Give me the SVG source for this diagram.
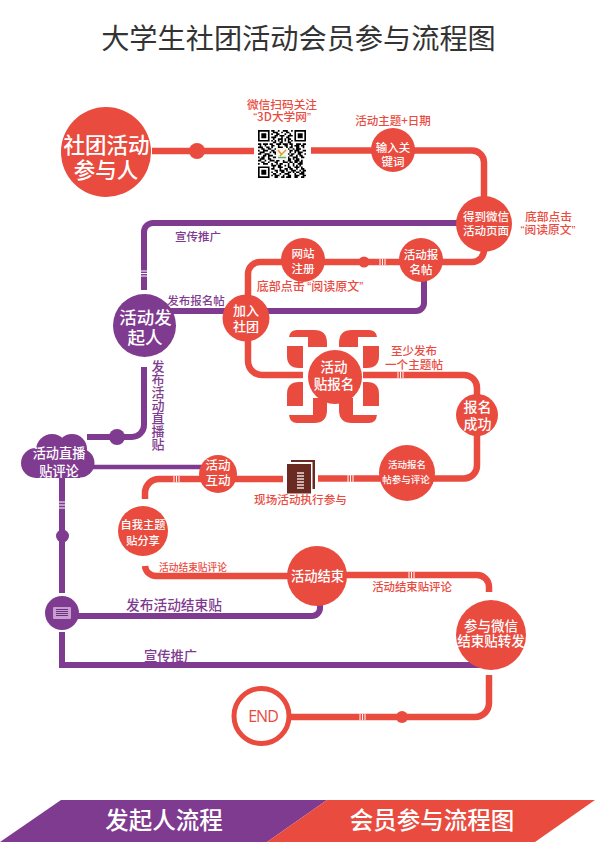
<svg xmlns="http://www.w3.org/2000/svg" width="595" height="842" viewBox="0 0 595 842">
<style>
text{font-family:"Noto Sans CJK SC","Noto Sans",sans-serif;text-anchor:middle}
.r{fill:#e94b3f}.p{fill:#7f3b8f}
.w{fill:#fff;font-weight:500}
.lr{fill:none;stroke:#e94b3f;stroke-width:6.5}
.lp{fill:none;stroke:#7f3b8f;stroke-width:6}
.t{fill:none;stroke:#fff;stroke-width:1}
.q{font-family:"Liberation Sans",sans-serif}
#labels text{font-weight:500}
</style>
<defs>
<path id="tlTop" d="M327,352V343Q327,330 314,330H297Q290,330 289,337H308V352ZM287,346H303V368H299Q287,368 287,356Z"/>
<path id="tlBot" d="M287,394Q287,382 299,382H303V406H287ZM289,415H313V398H327V410Q327,423 314,423H297Q290,423 289,415Z"/>
</defs>
<rect width="595" height="842" fill="#fff"/>
<text id="title" x="298.500" y="49" font-size="28.200" fill="#333">大学生社团活动会员参与流程图</text>

<g id="connectors">
<path class="lp" d="M484,223H153A9,9 0 0 0 144,232V290"/>
<path class="lr" d="M152,151H254"/>
<path class="lr" d="M311,150.500H472A12,12 0 0 1 484,162.500V200"/>
<path class="lp" d="M424,270V303A8,8 0 0 1 416,311H170"/>
<path class="lr" d="M484,245V250A12,12 0 0 1 472,262H260A12,12 0 0 0 248,274V361A14,14 0 0 0 262,375H310"/>
<path class="lr" d="M360,375H464A13,13 0 0 1 477,388V465A13,13 0 0 1 464,478.500H318"/>
<path class="lr" d="M283,479H159A14,14 0 0 0 145,493V499"/>
<path class="lr" d="M145,566A11,11 0 0 0 156,576H300"/>
<path class="lr" d="M340,575H477A12,12 0 0 1 489,587V592"/>
<path class="lr" d="M489,675V703A14,14 0 0 1 475,717H285"/>
<path class="lp" d="M144,367V425A12,12 0 0 1 132,437H87"/>
<path class="lp" d="M85,467H205" style="stroke-width:4.500"/>
<path class="lp" d="M62,478V593"/>
<path class="lp" d="M320,600V608A8,8 0 0 1 312,616H75"/>
<path class="lp" d="M62,632V665H485"/>
<circle class="r" cx="197" cy="151" r="8"/>
<circle class="r" cx="364" cy="262" r="5.500"/>
<circle class="r" cx="402" cy="717" r="6"/>
<circle class="p" cx="117" cy="437" r="8"/>
<circle class="p" cx="62.500" cy="536" r="6.500"/>
<path class="t" d="M141,271h6M141,273.500h6M141,276h6M380,259v6M382.500,259v6M385,259v6M398,372v6M400.500,372v6M403,372v6M353,475v7M350.500,475v7M348,475v7M174,476v6M176.500,476v6M179,476v6M59,502h6M59,505h6M59,508h6M409,572v6M411.500,572v6M414,572v6M360,714v6M362.500,714v6M365,714v6"/>
</g>

<g id="petals" class="r">
<use href="#tlTop"/><use href="#tlBot"/>
<use href="#tlTop" transform="translate(666,0) scale(-1,1)"/>
<use href="#tlBot" transform="translate(666,0) scale(-1,1)"/>
</g>

<g id="n-start"><circle class="r" cx="106" cy="152" r="45"/>
<text class="w" x="106.500" y="153" font-size="21.500">社团活动</text><text class="w" x="106" y="178" font-size="21.500">参与人</text></g>

<g id="n-qr">
<rect x="258" y="130" width="48" height="48" fill="#fff"/>
<g transform="translate(258,130) scale(1.655)">
<path d="M0,0h7v7h-7zM1,1v5h5v-5zM2,2h3v3h-3zM22,0h7v7h-7zM23,1v5h5v-5zM24,2h3v3h-3zM0,22h7v7h-7zM1,23v5h5v-5zM2,24h3v3h-3z" fill="#000" fill-rule="evenodd"/>
<path stroke="#000" stroke-width="1" fill="none" d="M8,.5h2m2,0h1m2,0h3m2,0h1M9,1.500h3m2,0h1m2,0h2M8,2.500h1m2,0h2m3,0h1m2,0h1M10,3.500h2m1,0h3m2,0h3M8,4.500h3m3,0h1m2,0h2M9,5.500h1m2,0h3m1,0h1m1,0h2M8,6.500h1m1,0h1m1,0h1m1,0h1m1,0h1m1,0h1m1,0h1M9,7.500h2m2,0h2m3,0h2M0,8.500h2m1,0h3m1,0h2m2,0h3m1,0h3m1,0h2m2,0h3m1,0h2M1,9.500h1m2,0h1m3,0h2m2,0h1m3,0h2m2,0h1m1,0h3m1,0h2M0,10.500h3m2,0h2m1,0h1m3,0h3m2,0h1m1,0h2m2,0h2m2,0h1M2,11.500h2m2,0h2m2,0h1m7,0h1m2,0h1m1,0h3M0,12.500h1m2,0h3m2,0h2m1,0h1m7,0h2m1,0h3m2,0h2M1,13.500h3m3,0h1m1,0h2m8,0h1m2,0h1m1,0h3M0,14.500h2m2,0h3m3,0h1m7,0h1m1,0h2m2,0h2m2,0h1M3,15.500h2m1,0h3m2,0h1m7,0h2m2,0h1m1,0h2M0,16.500h1m1,0h2m2,0h1m2,0h2m2,0h3m1,0h2m2,0h3m2,0h2M1,17.500h3m2,0h2m3,0h1m2,0h1m1,0h1m1,0h2m1,0h1m1,0h2M0,18.500h2m2,0h1m2,0h3m1,0h2m2,0h1m2,0h2m2,0h3m1,0h1M2,19.500h2m2,0h1m3,0h2m3,0h3m1,0h2m1,0h2m1,0h2M0,20.500h1m2,0h3m2,0h1m2,0h1m1,0h2m3,0h1m2,0h1m2,0h3M8,21.500h3m1,0h2m2,0h1m1,0h1m2,0h1m1,0h1m1,0h1M9,22.500h1m2,0h3m3,0h2m2,0h3m1,0h1M8,23.500h2m3,0h1m2,0h2m1,0h2m2,0h1m2,0h2M10,24.500h2m1,0h3m1,0h1m2,0h3m2,0h1m1,0h2M8,25.500h1m2,0h1m2,0h2m2,0h2m1,0h1m1,0h2m1,0h2M9,26.500h2m2,0h1m2,0h3m3,0h1m2,0h3M8,27.500h1m1,0h3m2,0h1m2,0h2m2,0h3m2,0h2M10,28.500h2m2,0h2m1,0h3m2,0h2m2,0h2"/>
</g>
<rect x="276" y="148" width="12" height="12" fill="#f4f7ef"/>
<path d="M278,150L282,155M286,150L280,156" stroke="#e8962e" stroke-width="1.400" fill="none"/>
<path d="M278,157.500H286" stroke="#58b368" stroke-width="1.400"/>
</g>

<g id="n-keyword"><circle class="r" cx="393" cy="150" r="22"/>
<text class="w" x="393" y="152" font-size="11.500">输入关</text><text class="w" x="393" y="166" font-size="11.500">键词</text></g>

<g id="n-wechat"><circle class="r" cx="484" cy="224" r="28"/>
<text class="w" x="486" y="221" font-size="11.500">得到微信</text><text class="w" x="486" y="235" font-size="11.500">活动页面</text></g>

<g id="n-post"><circle class="r" cx="421" cy="260" r="22"/>
<text class="w" x="421" y="259" font-size="11.500">活动报</text><text class="w" x="421" y="274" font-size="11.500">名帖</text></g>

<g id="n-register"><circle class="r" cx="303" cy="260" r="22"/>
<text class="w" x="303" y="258" font-size="11.500">网站</text><text class="w" x="303" y="273" font-size="11.500">注册</text></g>

<g id="n-join"><circle class="r" cx="246" cy="318" r="23.500"/>
<text class="w" x="246" y="315" font-size="13">加入</text><text class="w" x="246" y="331" font-size="13">社团</text></g>

<g id="n-initiator"><circle class="p" cx="144.500" cy="325.500" r="31.500"/>
<text class="w" x="145.500" y="324" font-size="17.500">活动发</text><text class="w" x="145" y="344" font-size="17.500">起人</text></g>

<g id="n-signup"><rect x="303" y="347" width="60" height="51" fill="#fff"/><circle class="r" cx="335" cy="377" r="27"/>
<text class="w" x="334" y="372" font-size="13.500">活动</text><text class="w" x="334" y="389" font-size="13.500">贴报名</text></g>

<g id="n-success"><circle class="r" cx="477" cy="415" r="21"/>
<text class="w" x="477.500" y="412" font-size="14">报名</text><text class="w" x="477.500" y="429" font-size="14">成功</text></g>

<g id="n-comment"><circle class="r" cx="407" cy="473" r="28"/>
<text class="w" x="407" y="468" font-size="9.500">活动报名</text><text class="w" x="406" y="483" font-size="9.500">帖参与评论</text></g>

<g id="n-book">
<rect x="291" y="460" width="24" height="29" fill="#6a2a22"/>
<rect x="288.500" y="462" width="24" height="29" fill="#fff"/>
<rect x="287" y="464" width="24" height="29.500" fill="#6a2a22"/>
<path d="M297,473h7M297,476h7M297,479h7M297,482h7M297,485h7M297,488h7" stroke="#eadcd8" stroke-width="1.500"/>
</g>

<g id="n-cloud" class="p">
<circle cx="36" cy="463" r="15"/><circle cx="52" cy="450" r="16"/><circle cx="72" cy="449" r="15"/><circle cx="80" cy="463" r="14.500"/><rect x="36" y="455" width="44" height="23"/>
<text class="w" x="59" y="458" font-size="13.200">活动直播</text><text class="w" x="59" y="476" font-size="13.200">贴评论</text></g>

<g id="n-interact"><circle class="r" cx="218" cy="474" r="19"/>
<text class="w" x="218" y="470" font-size="12.500">活动</text><text class="w" x="218" y="485" font-size="12.500">互动</text></g>

<g id="n-share"><circle class="r" cx="143" cy="531" r="25"/>
<text class="w" x="143" y="529" font-size="11.200">自我主题</text><text class="w" x="143" y="545" font-size="11.200">贴分享</text></g>

<g id="n-end-activity"><circle class="r" cx="317" cy="576" r="30"/>
<text class="w" x="317.500" y="581" font-size="13.300">活动结束</text></g>

<g id="n-icon"><circle class="p" cx="62" cy="613" r="17"/><rect x="53" y="607" width="18" height="12" rx="1" fill="#c69fd0"/>
<path d="M56,609.500h12M56,611.500h12M56,613.500h12M56,615.500h12" stroke="#6d3080" stroke-width="1"/></g>

<g id="n-forward"><circle class="r" cx="491" cy="635" r="35"/>
<text class="w" x="491" y="631" font-size="13.500">参与微信</text><text class="w" x="491" y="646" font-size="13.500">结束贴转发</text></g>

<g id="n-end"><circle cx="261.500" cy="716" r="27.500" fill="#fff" stroke="#e94b3f" stroke-width="5"/>
<text x="263" y="722" font-size="16" letter-spacing="-1" fill="#e94b3f" style="font-family:'Open Sans','Noto Sans',sans-serif">END</text></g>

<g id="labels">
<g fill="#e94b3f">
<text x="282" y="109" font-size="11.700">微信扫码关注</text>
<text x="282" y="121" font-size="11.700"><tspan class="q">“</tspan>3D大学网<tspan class="q">”</tspan></text>
<text x="393" y="125" font-size="11.500">活动主题+日期</text>
<text x="548.500" y="221" font-size="11.800">底部点击</text>
<text x="548" y="234" font-size="11.800"><tspan class="q">“</tspan>阅读原文<tspan class="q">”</tspan></text>
<text x="310" y="291" font-size="12">底部点击 <tspan class="q">“</tspan>阅读原文<tspan class="q">”</tspan></text>
<text x="414" y="355" font-size="11.500">至少发布</text>
<text x="414" y="369" font-size="11.600">一个主题帖</text>
<text x="300.500" y="504" font-size="11.600">现场活动执行参与</text>
<text x="193" y="571" font-size="9.700">活动结束贴评论</text>
<text x="412" y="591" font-size="11.400">活动结束贴评论</text>
</g>
<g fill="#7f3b8f">
<text x="198" y="241" font-size="11.500">宣传推广</text>
<text x="196" y="305" font-size="11.500">发布报名帖</text>
<text x="174" y="610" font-size="13.700">发布活动结束贴</text>
<text x="170.500" y="661" font-size="13.300">宣传推广</text>
<text x="158" y="360" font-size="13" style="writing-mode:vertical-rl;text-anchor:start">发布活动直播贴</text>
</g>
</g>

<g id="banner">
<path class="p" d="M61,800H327L267,842H0Z"/>
<path class="r" d="M327,800H595L535,842H267Z"/>
<text class="w" x="164" y="829" font-size="23.500">发起人流程</text>
<text class="w" x="432" y="829" font-size="23.500">会员参与流程图</text>
</g>
</svg>
